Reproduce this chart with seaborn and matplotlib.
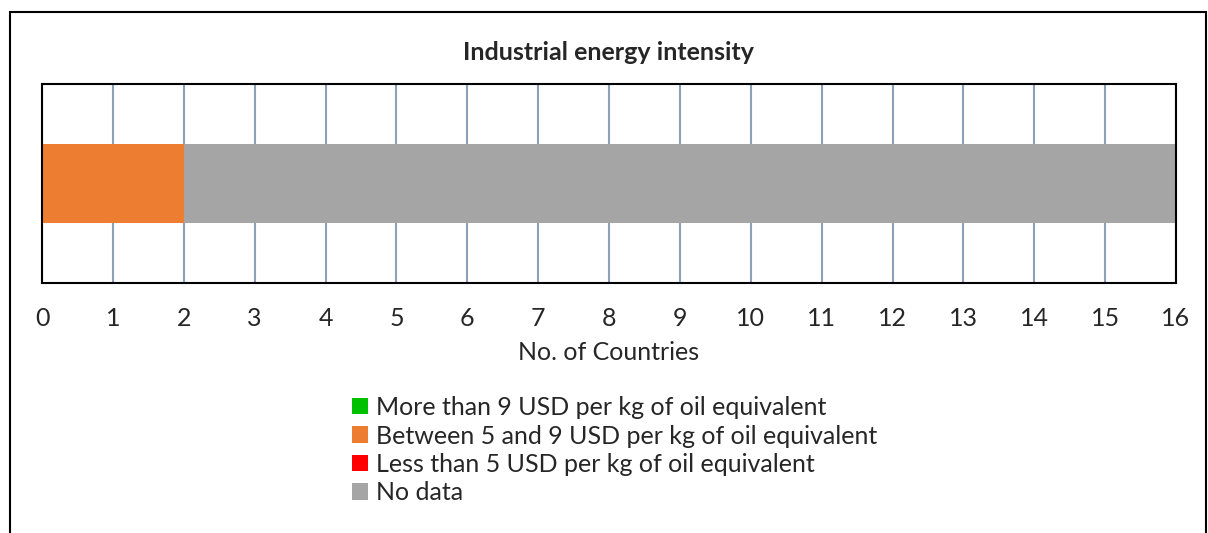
import numpy as np
import pandas as pd
import matplotlib
matplotlib.use("Agg")
import matplotlib.pyplot as plt
import seaborn as sns
from matplotlib.patches import Patch, Rectangle

# Series values (number of countries per class)
categories = ["More than 9 USD per kg of oil equivalent",
              "Between 5 and 9 USD per kg of oil equivalent",
              "Less than 5 USD per kg of oil equivalent",
              "No data"]
counts = [0, 2, 0, 14]
colors = ["#00C000", "#ED7D31", "#FF0000", "#A5A5A5"]
ticks = list(range(0, 17))

sns.set_style("white")
plt.rcParams['font.family'] = ['Lato', 'DejaVu Sans']
fs = 18

fig = plt.figure(figsize=(12.08, 5.33), dpi=100)
ax = fig.add_axes([0.0348, 0.469, 0.9387, 0.3734])

# Stack by drawing cumulative totals from the longest down
cum = np.cumsum(counts)
for i in reversed(range(len(categories))):
    df = pd.DataFrame({"row": ["Industrial"], "value": [cum[i]]})
    sns.barplot(data=df, x="value", y="row", orient="h", color=colors[i],
                width=0.4, saturation=1, ax=ax, zorder=2, linewidth=0)

ax.set_xlim(0, 16)
ax.set_ylim(0.5, -0.5)
ax.set_xticks(ticks)
ax.set_xticklabels([str(t) for t in ticks], fontsize=fs)
ax.set_yticks([])
ax.set_ylabel("")
ax.set_xlabel("No. of Countries", fontsize=fs, labelpad=8)
ax.tick_params(axis="x", length=0, pad=17)
ax.xaxis.grid(True, color="#8EA0B8", linewidth=1.5, zorder=0)
ax.set_axisbelow(True)
for s in ax.spines.values():
    s.set_color("black")
    s.set_linewidth(1.5)

fig.text(0.504, 1 - 52 / 533, "Industrial energy intensity", ha="center", va="center",
         fontsize=fs, fontweight="bold")

handles = [Patch(facecolor=c, edgecolor="none") for c in colors]
fig.legend(handles, categories, loc="upper left", bbox_to_anchor=(0.2915, 1 - 396 / 533),
           frameon=False, fontsize=fs, handlelength=0.64, handleheight=0.64,
           handletextpad=0.3, labelspacing=0.22, borderaxespad=0, borderpad=0)

# outer chart frame
fig.patches.append(Rectangle((10 / 1208, -0.1), 1196 / 1208, 1 - 12 / 533 + 0.1,
                             transform=fig.transFigure, fill=False,
                             edgecolor="black", linewidth=1.5))

fig.savefig("out.png", dpi=100)
